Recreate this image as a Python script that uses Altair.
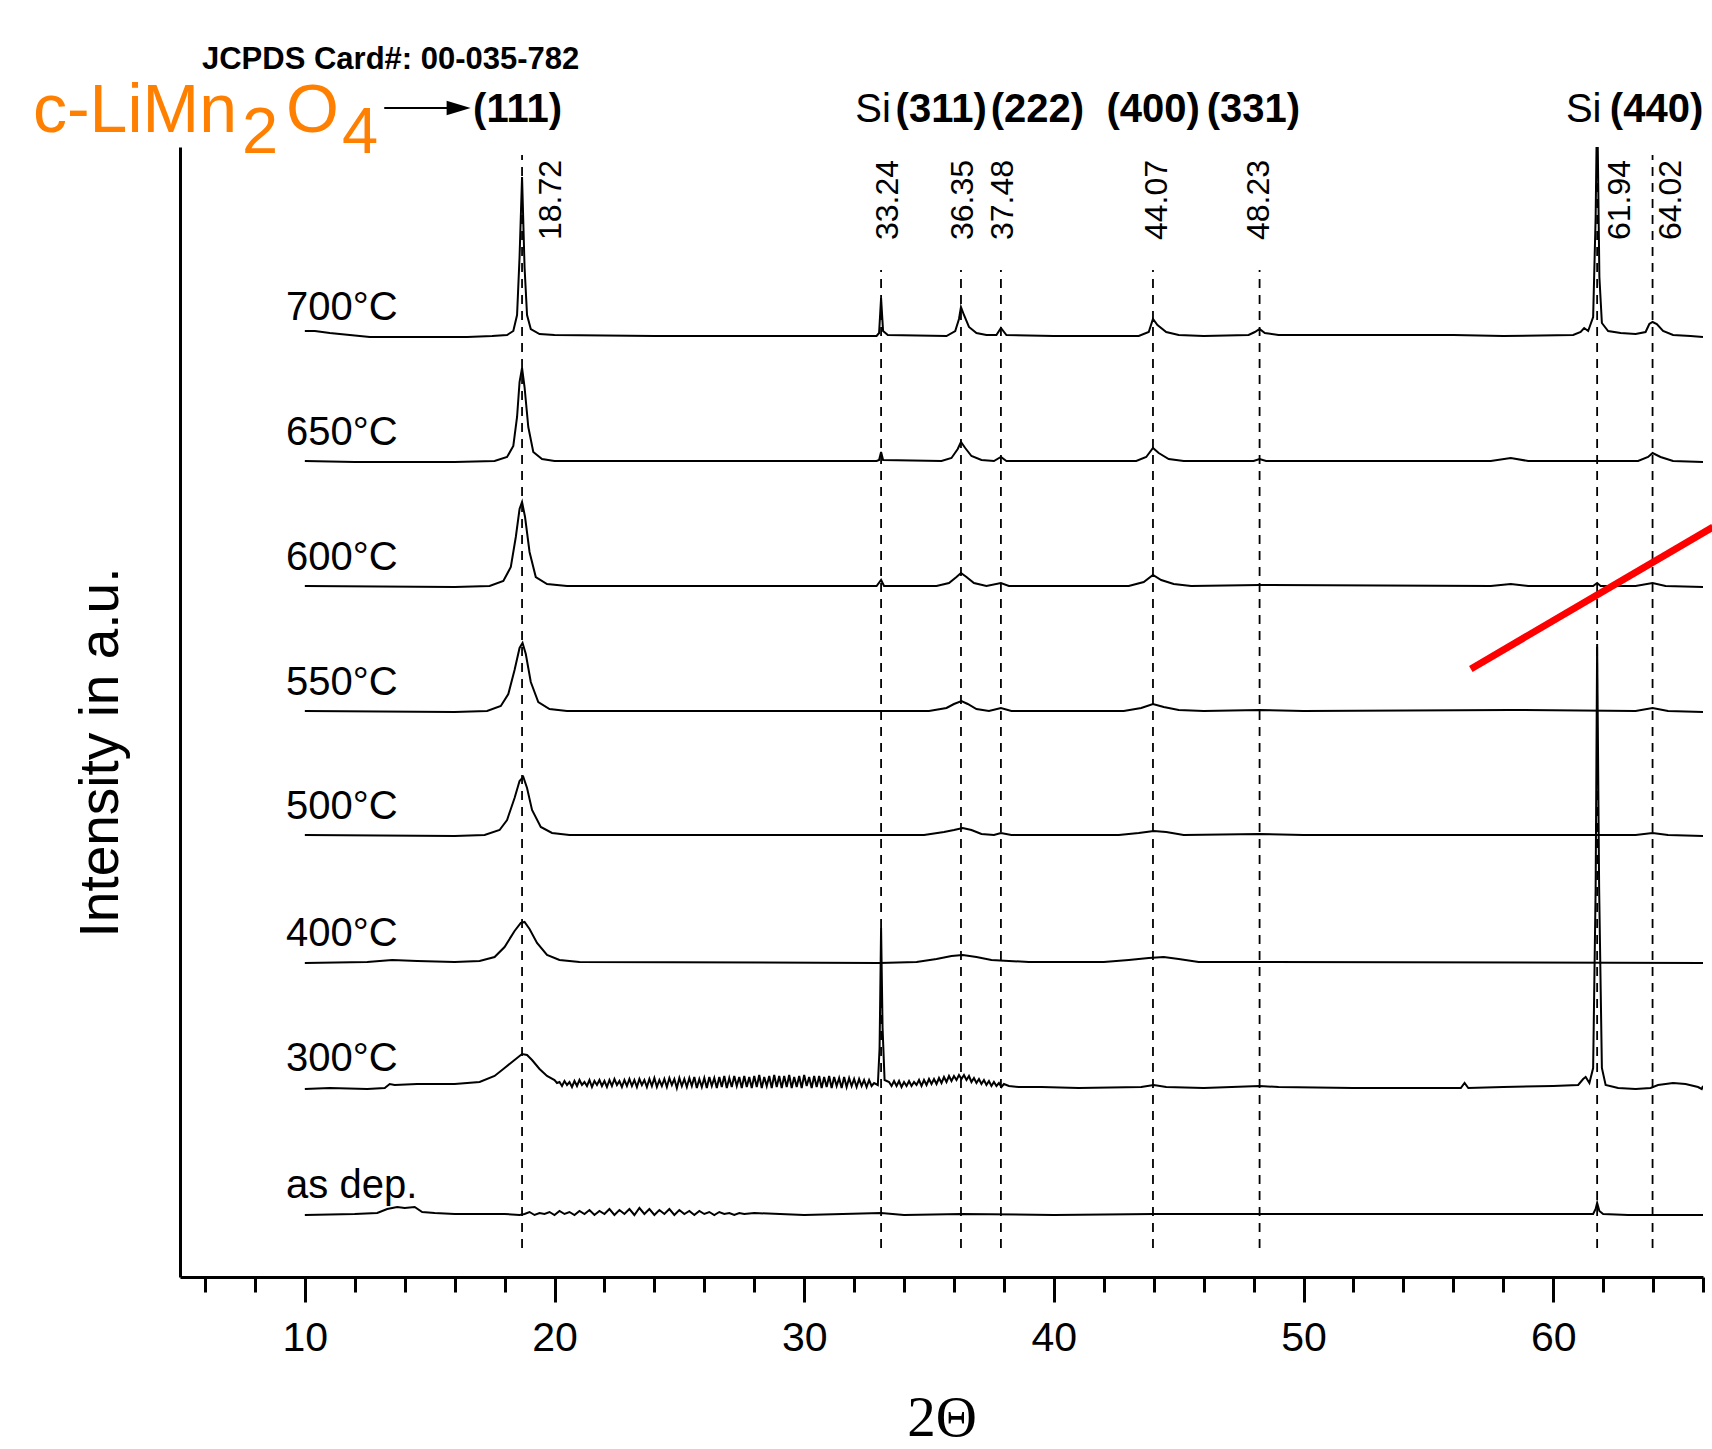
import altair as alt
import pandas as pd

SANS = "Liberation Sans, Arial, sans-serif"
SERIF = "Liberation Serif, Times New Roman, serif"

# ---------------- data ----------------
trace_names = ["700°C", "650°C", "600°C", "550°C", "500°C", "400°C", "300°C", "as dep."]
trace_offsets = [940, 815, 690, 565, 441, 314, 189, 62]

t700 = [(10.0, 6), (10.4, 6), (11.0, 4), (11.8, 2), (12.6, 0), (16.5, 0), (17.5, 1), (18.1, 2),
        (18.35, 6), (18.5, 22), (18.6, 80), (18.7, 160), (18.8, 70), (18.9, 22), (19.05, 8),
        (19.4, 3), (20.0, 2), (24.0, 1), (28.0, 1), (32.9, 1), (33.0, 4), (33.08, 39),
        (33.16, 6), (33.35, 2), (35.7, 1), (36.05, 6), (36.2, 18), (36.28, 30), (36.4, 22),
        (36.6, 10), (36.9, 4), (37.3, 2), (37.7, 2), (37.88, 9), (38.1, 2), (40.0, 1),
        (43.4, 1), (43.8, 5), (43.97, 18), (44.15, 12), (44.5, 5), (45.0, 2), (46.0, 1),
        (47.8, 2), (48.05, 5), (48.24, 8), (48.45, 4), (49.0, 2), (52.0, 2), (56.0, 2),
        (58.0, 1), (60.8, 2), (61.1, 5), (61.24, 9), (61.4, 6), (61.6, 20), (61.7, 120),
        (61.76, 240), (61.85, 60), (61.95, 14), (62.2, 6), (62.7, 4), (63.3, 3), (63.7, 5),
        (63.85, 13), (63.98, 15), (64.15, 13), (64.4, 6), (64.8, 2), (65.5, 1), (66.0, 0)]

t650 = [(10.0, 1), (12.0, 0), (16.0, 0), (17.6, 1), (18.1, 5), (18.35, 16), (18.5, 45),
        (18.6, 80), (18.7, 94), (18.8, 75), (18.95, 35), (19.15, 10), (19.5, 3), (20.0, 1),
        (32.9, 1), (33.0, 2), (33.08, 10), (33.16, 2), (35.5, 1), (35.9, 4), (36.15, 13),
        (36.28, 20), (36.45, 14), (36.7, 6), (37.1, 2), (37.6, 1), (37.88, 5), (38.1, 1),
        (43.3, 1), (43.7, 5), (43.97, 14), (44.2, 9), (44.6, 3), (45.2, 1), (48.0, 1),
        (48.24, 3), (48.5, 1), (57.5, 1), (58.3, 4), (59.0, 1), (61.76, 1), (63.4, 1),
        (63.8, 5), (63.98, 9), (64.3, 5), (64.8, 1), (66.0, 0)]

t600 = [(10.0, 1), (16.0, 0), (17.4, 1), (17.95, 6), (18.25, 20), (18.45, 50), (18.6, 78),
        (18.7, 85), (18.82, 70), (19.0, 35), (19.25, 10), (19.7, 3), (20.5, 1), (32.9, 1),
        (33.08, 7), (33.2, 1), (35.3, 1), (35.8, 4), (36.1, 10), (36.28, 14), (36.5, 10),
        (36.8, 4), (37.3, 1), (37.88, 4), (38.2, 1), (43.0, 1), (43.6, 5), (43.97, 12),
        (44.3, 7), (44.8, 3), (45.5, 1), (48.24, 2), (57.5, 1), (58.3, 3), (59.0, 1),
        (61.6, 1), (61.76, 4), (61.9, 1), (63.3, 1), (63.98, 4), (64.5, 1), (66.0, 0)]

t550 = [(10.0, 1), (16.0, 0), (17.3, 1), (17.85, 6), (18.15, 18), (18.4, 42), (18.6, 64),
        (18.72, 69), (18.85, 58), (19.05, 30), (19.35, 10), (19.8, 3), (20.5, 1), (35.0, 1),
        (35.7, 4), (36.0, 8), (36.3, 11), (36.55, 8), (36.9, 3), (37.4, 1), (37.88, 4),
        (38.3, 1), (42.8, 1), (43.5, 4), (43.97, 8), (44.4, 5), (45.0, 2), (46.0, 1),
        (48.24, 2), (50.0, 1), (58.3, 2), (63.3, 1), (63.98, 4), (64.6, 1), (66.0, 0)]

t500 = [(10.0, 1), (16.0, 0), (17.2, 1), (17.8, 6), (18.1, 16), (18.4, 38), (18.6, 55),
        (18.75, 59), (18.9, 48), (19.1, 26), (19.45, 9), (19.9, 3), (20.6, 1), (34.8, 1),
        (35.6, 4), (36.0, 6), (36.35, 8), (36.7, 6), (37.1, 2), (37.6, 1), (37.88, 3),
        (38.3, 1), (42.6, 1), (43.4, 3), (44.0, 5), (44.5, 4), (45.2, 1), (48.24, 2),
        (50.0, 1), (63.3, 1), (63.98, 3), (64.6, 1), (66.0, 0)]

t400 = [(10.0, 0), (12.5, 1), (13.5, 3), (14.5, 2), (16.0, 1), (17.0, 2), (17.6, 6),
        (18.0, 16), (18.4, 32), (18.65, 40), (18.8, 41), (19.0, 34), (19.3, 20), (19.7, 8),
        (20.2, 3), (21.0, 1), (33.0, 0), (34.5, 1), (35.3, 4), (35.9, 7), (36.35, 8),
        (36.9, 6), (37.5, 3), (38.2, 2), (39.0, 1), (42.0, 1), (43.0, 3), (43.8, 5),
        (44.4, 6), (45.0, 4), (45.8, 1), (48.24, 1), (66.0, 0)]

# 300 °C: smooth part, dense noisy band (20-33°), then the rest
t300_head = [(10.0, -1), (11.0, 0), (12.5, -1), (13.2, 0), (13.4, 4), (13.6, 3), (14.5, 4),
             (16.0, 4), (17.0, 6), (17.6, 12), (18.0, 20), (18.4, 28), (18.7, 34), (18.9, 33),
             (19.1, 28), (19.4, 19), (19.7, 12), (20.0, 8), (20.1, 5)]
noise300_x = [20.2, 20.3, 20.4, 20.5, 20.6, 20.7, 20.8, 20.9, 21.0, 21.1, 21.2, 21.3, 21.4,
              21.5, 21.6, 21.7, 21.8, 21.9, 22.0, 22.1, 22.2, 22.3, 22.4, 22.5, 22.6, 22.7,
              22.8, 22.9, 23.0,
              23.1, 23.2, 23.3, 23.4, 23.5, 23.6, 23.7, 23.8, 23.9, 24.0, 24.1, 24.2, 24.3,
              24.4, 24.5, 24.6, 24.7, 24.8, 24.9, 25.0, 25.1, 25.2, 25.3, 25.4, 25.5, 25.6,
              25.7, 25.8, 25.9, 26.0,
              26.1, 26.2, 26.3, 26.4, 26.5, 26.6, 26.7, 26.8, 26.9, 27.0, 27.1, 27.2, 27.3,
              27.4, 27.5, 27.6, 27.7, 27.8, 27.9, 28.0, 28.1, 28.2, 28.3, 28.4, 28.5, 28.6,
              28.7, 28.8, 28.9, 29.0,
              29.1, 29.2, 29.3, 29.4, 29.5, 29.6, 29.7, 29.8, 29.9, 30.0, 30.1, 30.2, 30.3,
              30.4, 30.5, 30.6, 30.7, 30.8, 30.9, 31.0, 31.1, 31.2, 31.3, 31.4, 31.5, 31.6,
              31.7, 31.8, 31.9, 32.0,
              32.1, 32.2, 32.3, 32.4, 32.5, 32.6, 32.7, 32.8]
noise300_h = [6, 2, 7, 3, 6, 1, 7, 2, 8, 3, 6, 2, 8, 1, 7, 3, 8, 2, 7, 1, 8, 2, 9, 3, 7, 1, 8, 2, 9,
              2, 8, 1, 9, 3, 8, 1, 9, 2, 10, 1, 8, 2, 9, 1, 10, 3, 9, 0, 10, 2, 9, 1, 10, 2, 11, 0, 9, 1, 10,
              0, 11, 2, 10, 0, 11, 1, 12, 0, 10, 1, 12, 2, 11, 0, 12, 1, 11, 0, 12, 1, 13, 0, 11, 2, 12, 0, 13, 1, 12,
              0, 12, 1, 13, 0, 11, 1, 12, 0, 13, 2, 11, 0, 12, 1, 12, 0, 11, 1, 12, 0, 11, 2, 10, 0, 11, 1, 10, 2, 9,
              1, 9, 2, 8, 1, 8, 2, 5]
t300_tail = [(32.95, 3), (33.02, 40), (33.08, 160), (33.14, 60), (33.22, 8),
             (33.4, 6), (33.5, 2), (33.6, 7), (33.7, 2), (33.8, 7), (33.9, 1), (34.0, 6), (34.1, 2),
             (34.2, 7), (34.3, 2), (34.4, 6), (34.5, 3), (34.6, 8), (34.7, 2), (34.8, 8), (34.9, 3),
             (35.0, 9), (35.1, 4), (35.2, 9), (35.3, 4), (35.4, 10), (35.5, 5), (35.6, 11),
             (35.7, 6), (35.8, 12), (35.9, 7), (36.0, 12), (36.1, 8), (36.2, 13), (36.3, 9),
             (36.4, 13), (36.5, 8), (36.6, 12), (36.7, 6), (36.8, 10), (36.9, 5), (37.0, 9),
             (37.1, 4), (37.2, 8), (37.3, 3), (37.4, 7), (37.5, 2), (37.6, 6), (37.7, 2),
             (37.8, 5), (37.9, 1), (38.0, 4), (38.2, 2), (38.6, 1), (39.5, 1), (41.0, 0),
             (43.5, 1), (44.0, 3), (44.5, 1), (46.0, 0), (48.24, 2), (49.0, 1), (52.0, 0),
             (56.3, 0), (56.45, 5), (56.6, 0), (58.0, 1), (60.0, 2), (61.0, 3), (61.2, 9),
             (61.3, 11), (61.45, 5), (61.6, 20), (61.7, 200), (61.76, 444), (61.84, 200),
             (61.95, 20), (62.1, 3), (62.6, 0), (63.3, -1), (63.9, 0), (64.2, 3), (64.8, 5),
             (65.3, 4), (65.8, 1), (65.95, -1), (66.0, 2)]

# as deposited
tdep_head = [(10.0, 0), (12.0, 1), (12.9, 2), (13.3, 6), (13.7, 8), (14.0, 7), (14.4, 8),
             (14.7, 3), (15.2, 2), (16.0, 1), (18.0, 1), (18.6, 0)]
noisedep_x = [18.8, 19.0, 19.2, 19.4, 19.6, 19.8, 20.0, 20.2, 20.4, 20.6, 20.8, 21.0, 21.2,
              21.4, 21.6, 21.8, 22.0, 22.2, 22.4, 22.6, 22.8, 23.0, 23.2, 23.4, 23.6, 23.8,
              24.0, 24.2, 24.4, 24.6, 24.8, 25.0, 25.2, 25.4, 25.6, 25.8, 26.0, 26.2, 26.4,
              26.6, 26.8, 27.0, 27.2, 27.4, 27.6]
noisedep_h = [1, 3, 0, 2, 1, 3, 0, 4, 1, 3, 0, 4, 1, 5, 0, 4, 1, 6, 0, 5,
              1, 6, 0, 7, 1, 6, 0, 5, 1, 6, 0, 5, 1, 4, 0, 4, 1, 3, 0, 3,
              1, 2, 0, 2, 1]
tdep_tail = [(28.0, 2), (30.0, 0), (33.08, 2), (34.0, 0), (36.3, 1), (40.0, 0), (44.0, 1),
             (50.0, 1), (56.0, 1), (61.6, 1), (61.7, 6), (61.76, 12), (61.85, 4), (62.0, 1),
             (63.0, 0), (66.0, 0)]

t300 = t300_head + list(zip(noise300_x, noise300_h)) + t300_tail
tdep = tdep_head + list(zip(noisedep_x, noisedep_h)) + tdep_tail
trace_points = [t700, t650, t600, t550, t500, t400, t300, tdep]

# reference (JCPDS) lines
ref_pos = [18.70, 33.08, 36.28, 37.88, 43.97, 48.24, 61.76, 63.98]
ref_top = [1122, 1007, 1007, 1007, 1007, 1007, 1122, 1122]
ref_bottom = [29, 29, 29, 29, 29, 29, 29, 29]
ref_labels = ["18.72", "33.24", "36.35", "37.48", "44.07", "48.23", "61.94", "64.02"]
ref_label_x = [19.87, 33.37, 36.38, 37.98, 44.15, 48.20, 62.66, 64.70]
ref_label_y = 1037

# hkl labels above the plot
hkl_bold = ["(111)", "(311)", "(222)", "(400)", "(331)", "(440)"]
hkl_bold_x = [16.74, 33.66, 37.47, 42.11, 46.12, 62.27]
si_labels = ["Si", "Si"]
si_x = [32.05, 60.51]
hkl_y = 1155

card_text = ["JCPDS Card#: 00-035-782"]
card_x = [5.88]
card_y = [1208]

formula_big = ["c-LiMn", "O"]
formula_big_x = [-0.89, 9.25]
formula_sub = ["2", "4"]
formula_sub_x = [7.48, 11.49]

arrow_x = [13.18]
arrow_x2 = [15.9]
arrow_tip_x = [16.16]
arrow_y = [1169]

red_x = [56.7]
red_y = [608]
red_x2 = [66.4]
red_y2 = [750]

major_ticks = [10, 20, 30, 40, 50, 60]
minor_ticks = [6, 8, 12, 14, 16, 18, 22, 24, 26, 28, 32, 34, 36, 38, 42, 44, 46, 48,
               52, 54, 56, 58, 62, 64, 66]

# ---------------- build tables ----------------
rows = []
for name, off, pts in zip(trace_names, trace_offsets, trace_points):
    for i, (tt, h) in enumerate(pts):
        rows.append({"trace": name, "tt": tt, "I": off + h, "idx": i})
trace_df = pd.DataFrame(rows)

tlabel_df = pd.DataFrame({"x": [9.25] * len(trace_names),
                          "y": [o + 17 for o in trace_offsets],
                          "t": trace_names})
ref_df = pd.DataFrame({"pos": ref_pos, "y0": ref_bottom, "y1": ref_top})
reflab_df = pd.DataFrame({"x": ref_label_x, "y": [ref_label_y] * len(ref_labels), "t": ref_labels})
hklb_df = pd.DataFrame({"x": hkl_bold_x, "y": [hkl_y] * len(hkl_bold), "t": hkl_bold})
si_df = pd.DataFrame({"x": si_x, "y": [hkl_y] * len(si_labels), "t": si_labels})
card_df = pd.DataFrame({"x": card_x, "y": card_y, "t": card_text})
fbig_df = pd.DataFrame({"x": formula_big_x, "y": [1145, 1145], "t": formula_big})
fsub_df = pd.DataFrame({"x": formula_sub_x, "y": [1124, 1124], "t": formula_sub})
arrow_df = pd.DataFrame({"x": arrow_x, "x2": arrow_x2, "y": arrow_y})
tip_df = pd.DataFrame({"x": arrow_tip_x, "y": arrow_y})
red_df = pd.DataFrame({"x": red_x, "y": red_y, "x2": red_x2, "y2": red_y2})

# ---------------- chart ----------------
xs = alt.Scale(domain=[5, 66], nice=False, zero=False)
ys = alt.Scale(domain=[0, 1130], nice=False, zero=False)

x_main_axis = alt.Axis(orient="bottom", values=major_ticks, format="d", tickSize=25, tickWidth=3,
                       tickColor="black", domainWidth=3, domainColor="black", labelFont=SANS,
                       labelFontSize=41, labelColor="black", labelBaseline="alphabetic",
                       labelPadding=48, labelOverlap=False, grid=False, title="2Θ",
                       titleFont=SERIF, titleFontSize=57, titleFontWeight="normal",
                       titleColor="black", titleBaseline="alphabetic", titleY=158)
x_minor_axis = alt.Axis(orient="bottom", values=minor_ticks, tickSize=15, tickWidth=3,
                        tickColor="black", domain=False, labels=False, grid=False, title="")
y_axis = alt.Axis(orient="left", domain=True, domainWidth=3, domainColor="black", ticks=False,
                  labels=False, grid=False, title="Intensity in a.u.", titleFont=SANS,
                  titleFontSize=55, titleFontWeight="normal", titleColor="black",
                  titleAngle=270, titleX=-63, titleY=605, titleAlign="center",
                  titleBaseline="alphabetic")

traces = alt.Chart(trace_df).mark_line(color="black", strokeWidth=2, clip=True).encode(
    x=alt.X("tt:Q", scale=xs, axis=x_main_axis),
    y=alt.Y("I:Q", scale=ys, axis=y_axis),
    detail="trace:N",
    order="idx:Q",
)

refs = alt.Chart(ref_df).mark_rule(color="black", strokeWidth=1.8, strokeDash=[9, 7]).encode(
    x=alt.X("pos:Q", scale=xs, axis=x_minor_axis),
    y=alt.Y("y0:Q", scale=ys, axis=None),
    y2="y1:Q",
)


def text_layer(df, **kw):
    return alt.Chart(df).mark_text(**kw).encode(
        x=alt.X("x:Q", scale=xs, axis=None),
        y=alt.Y("y:Q", scale=ys, axis=None),
        text="t:N",
    )


tlabels = text_layer(tlabel_df, font=SANS, fontSize=40, align="left",
                     baseline="alphabetic", color="black")
reflabels = text_layer(reflab_df, font=SANS, fontSize=32, angle=270, align="left",
                       baseline="middle", color="black")
hklb = text_layer(hklb_df, font=SANS, fontSize=40, fontWeight="bold", align="left",
                  baseline="alphabetic", color="black")
sil = text_layer(si_df, font=SANS, fontSize=40, align="left", baseline="alphabetic",
                 color="black")
card = text_layer(card_df, font=SANS, fontSize=31, fontWeight="bold", align="left",
                  baseline="alphabetic", color="black")
fbig = text_layer(fbig_df, font=SANS, fontSize=68, align="left", baseline="alphabetic",
                  color="#FF8000")
fsub = text_layer(fsub_df, font=SANS, fontSize=65, align="left", baseline="alphabetic",
                  color="#FF8000")

arrow = alt.Chart(arrow_df).mark_rule(color="black", strokeWidth=2).encode(
    x=alt.X("x:Q", scale=xs, axis=None),
    x2="x2:Q",
    y=alt.Y("y:Q", scale=ys, axis=None),
)
tip = alt.Chart(tip_df).mark_point(shape="M-1,-0.6L1,0L-1,0.6Z", filled=True, size=576,
                                   color="black", opacity=1, strokeWidth=0).encode(
    x=alt.X("x:Q", scale=xs, axis=None),
    y=alt.Y("y:Q", scale=ys, axis=None),
)
red = alt.Chart(red_df).mark_rule(color="#FF0000", strokeWidth=7, strokeCap="butt").encode(
    x=alt.X("x:Q", scale=xs, axis=None),
    y=alt.Y("y:Q", scale=ys, axis=None),
    x2="x2:Q",
    y2="y2:Q",
)

chart = alt.layer(
    traces, refs, tlabels, reflabels, hklb, sil, card, fbig, fsub, arrow, tip, red
).resolve_axis(
    x="independent", y="independent"
).properties(
    width=1523,
    height=1130,
    autosize=alt.AutoSizeParams(type="none"),
    padding={"left": 180, "top": 147, "right": 9, "bottom": 172},
    background="white",
).configure_view(strokeWidth=0)

chart.save("out.html", embed_options={"renderer": "svg", "actions": False})
